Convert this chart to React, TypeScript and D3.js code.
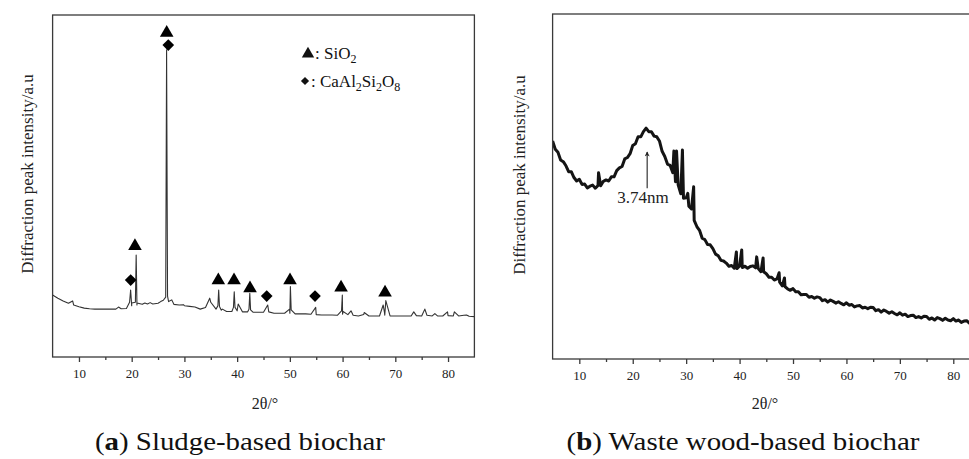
import React, { useRef, useEffect } from "react";
import * as d3 from "d3";

// (a) sludge-based biochar: slowly varying background read at 1° steps from 5°
const sludgeStart = 5;
const sludgeStep = 1;
const sludgeBackground = [
  181, 172, 164, 157, 152, 147, 143, 141, 140, 140, 140, 140, 140, 141, 142, 150,
  152, 154, 155, 155, 157, 166, 162, 154, 152, 150, 148, 146, 140, 145, 160, 140,
  137, 133, 133, 135, 132, 132, 131, 131, 131, 132, 128, 128, 128, 128, 126, 126,
  126, 125, 124, 123, 123, 123, 122, 125, 124, 122, 120, 124, 120, 120, 120, 122,
  120, 120, 120, 120, 120, 121, 120, 122, 120, 120, 120, 121, 120, 120, 122, 119,
  118,
];
// reflections and small bumps, [2θ, intensity]
const sludgePeaks = [
  [8.8, 164], [17.5, 146],
  [19.6, 160], [19.8, 196], [20.0, 158],
  [20.7, 160], [20.85, 298], [21.0, 158],
  [22.5, 158], [23.5, 159], [25.5, 162],
  [26.45, 175], [26.62, 898], [26.8, 178],
  [27.6, 167], [29.8, 153], [34.8, 172],
  [36.35, 150], [36.5, 196], [36.65, 148], [37.2, 140],
  [39.3, 145], [39.45, 191], [39.6, 145], [40.2, 155],
  [42.25, 140], [42.4, 186], [42.55, 138], [45.8, 152],
  [49.95, 140], [50.1, 206], [50.25, 138], [54.9, 145],
  [59.8, 135], [59.95, 181], [60.1, 133], [61.6, 135], [64.1, 130],
  [67.7, 152], [67.95, 130], [68.2, 165], [73.5, 132], [75.6, 140],
  [77.5, 127], [79.9, 132], [81.2, 132], [83.5, 123],
];
const sio2Marks = [
  [26.64, 951], [20.62, 327], [36.43, 227], [39.41, 227], [42.44, 204],
  [50.03, 227], [59.71, 206], [68.05, 191],
];
const anorthiteMarks = [[26.94, 912], [19.81, 225], [45.61, 178], [54.77, 178]];

// (b) waste wood-based biochar: scan read at 0.5° steps from 5°
const woodStart = 5;
const woodStep = 0.5;
const woodScan = [
  632, 608, 599, 577, 572, 560, 543, 543, 526, 516, 521, 506, 507, 496, 501, 504,
  495, 503, 502, 515, 519, 516, 528, 528, 546, 554, 558, 580, 584, 595, 619, 624,
  644, 644, 659, 669, 659, 659, 646, 644, 632, 602, 587, 565, 561, 540, 514, 505,
  479, 466, 467, 443, 435, 402, 384, 373, 350, 346, 332, 331, 320, 304, 299, 286,
  284, 278, 269, 271, 263, 262, 270, 265, 269, 263, 268, 270, 264, 262, 253, 253,
  247, 237, 237, 229, 232, 223, 212, 210, 203, 199, 204, 195, 195, 186, 187, 187,
  179, 181, 176, 180, 178, 169, 172, 165, 171, 167, 162, 166, 161, 157, 163, 156,
  158, 151, 154, 155, 148, 150, 146, 150, 149, 140, 143, 136, 142, 138, 133, 137,
  132, 128, 134, 127, 130, 123, 126, 127, 120, 123, 119, 124, 123, 115, 119, 113,
  120, 117, 112, 118, 113, 111, 117, 110, 113, 106, 110, 111, 104, 107, 104, 109,
  109,
];
const woodSpikes = [
  [13.6, 540], [27.7, 603], [28.2, 603], [29.3, 606], [30.3, 480], [31.4, 499],
  [39.4, 310], [40.4, 316], [43.2, 296], [44.4, 293], [47.4, 250], [48.4, 235],
];
const woodPeakLabel = "3.74nm";
const woodPeakAt = 22.7;
const woodArrow = [600, 495];
const woodLabelAt = [21.9, 452];

const xTicks = [10, 20, 30, 40, 50, 60, 70, 80];
const xMinorTicks = [15, 25, 35, 45, 55, 65, 75];
const yLabel = "Diffraction peak intensity/a.u";
const xLabel = "2θ/°";

const serif = "Liberation Serif, serif";

const drawPanel = (svg, o) => {
  const x = d3.scaleLinear().domain([5, 85]).range([o.left, o.right]);
  const y = d3.scaleLinear().domain([0, 1000]).range([o.bottom, o.top]);
  const g = svg.append("g");

  const clipId = `clip-${o.key}`;
  g.append("clipPath").attr("id", clipId)
    .append("rect")
    .attr("x", o.left).attr("y", o.top)
    .attr("width", o.right - o.left).attr("height", o.bottom - o.top);

  const line = d3.line().x(d => x(d[0])).y(d => y(d[1]));
  g.append("path")
    .datum(o.points)
    .attr("clip-path", `url(#${clipId})`)
    .attr("fill", "none")
    .attr("stroke", o.stroke)
    .attr("stroke-width", o.strokeWidth)
    .attr("stroke-linejoin", "round")
    .attr("d", line);

  g.append("rect")
    .attr("x", o.left).attr("y", o.top)
    .attr("width", o.right - o.left).attr("height", o.bottom - o.top)
    .attr("fill", "none").attr("stroke", "#3a3a3a").attr("stroke-width", 1.3);

  g.append("g")
    .attr("transform", `translate(0,${o.bottom})`)
    .call(d3.axisBottom(x).tickValues(xMinorTicks).tickSize(3).tickFormat(() => ""))
    .call(a => a.select(".domain").remove())
    .call(a => a.selectAll("line").attr("stroke", "#3a3a3a").attr("stroke-width", 1.3));

  g.append("g")
    .attr("transform", `translate(0,${o.bottom})`)
    .call(d3.axisBottom(x).tickValues(xTicks).tickSize(5).tickPadding(7))
    .call(a => a.select(".domain").remove())
    .call(a => a.selectAll("line").attr("stroke", "#3a3a3a").attr("stroke-width", 1.3))
    .call(a => a.selectAll("text")
      .attr("font-family", serif).attr("font-size", 13).attr("fill", "#222"));

  g.append("text")
    .attr("transform", `translate(${o.yLabelX},${o.yLabelY}) rotate(-90)`)
    .attr("text-anchor", "middle")
    .attr("font-family", serif).attr("font-size", 17).attr("fill", "#222")
    .text(yLabel);

  g.append("text")
    .attr("x", o.xLabelX).attr("y", 409)
    .attr("text-anchor", "middle")
    .attr("font-family", serif).attr("font-size", 16).attr("fill", "#222")
    .text(xLabel);

  const cap = g.append("text")
    .attr("x", o.captionX).attr("y", 450)
    .attr("text-anchor", "middle")
    .attr("textLength", o.captionWidth)
    .attr("lengthAdjust", "spacingAndGlyphs")
    .attr("font-family", serif).attr("font-size", 26).attr("fill", "#111");
  cap.append("tspan").text("(");
  cap.append("tspan").attr("font-weight", "bold").text(o.letter);
  cap.append("tspan").text(") " + o.caption);

  return { x, y, g };
};

const App = () => {
  const ref = useRef(null);

  useEffect(() => {
    const svg = d3.create("svg")
      .attr("width", 969)
      .attr("height", 459)
      .attr("viewBox", [0, 0, 969, 459])
      .attr("style", "position:absolute;left:0;top:0;background:#fff");

    // panel (a)
    const sludgePoints = sludgeBackground
      .map((v, i) => [sludgeStart + i * sludgeStep, v])
      .concat(sludgePeaks)
      .sort((a, b) => a[0] - b[0]);
    const a = drawPanel(svg, {
      key: "a", left: 52.6, right: 474.4, top: 15, bottom: 357,
      points: sludgePoints, stroke: "#333", strokeWidth: 1.1,
      yLabelX: 33, yLabelY: 174, xLabelX: 265,
      captionX: 240, captionWidth: 290, letter: "a", caption: "Sludge-based biochar",
    });
    const tri = d3.symbol(d3.symbolTriangle, 80);
    const dia = d3.symbol(d3.symbolSquare, 68);
    a.g.selectAll(".sio2").data(sio2Marks).join("path")
      .attr("d", tri)
      .attr("transform", d => `translate(${a.x(d[0])},${a.y(d[1]) + 1})`)
      .attr("fill", "#000");
    a.g.selectAll(".an").data(anorthiteMarks).join("path")
      .attr("d", dia)
      .attr("transform", d => `translate(${a.x(d[0])},${a.y(d[1])}) rotate(45)`)
      .attr("fill", "#000");

    // legend
    const lg = a.g.append("g").attr("font-family", serif).attr("font-size", 17).attr("fill", "#111");
    lg.append("path").attr("d", d3.symbol(d3.symbolTriangle, 66)).attr("transform", "translate(308,54)");
    const t1 = lg.append("text").attr("x", 315).attr("y", 59);
    t1.append("tspan").text(": SiO");
    t1.append("tspan").attr("font-size", 12).attr("dy", 4).text("2");
    lg.append("path").attr("d", d3.symbol(d3.symbolSquare, 34)).attr("transform", "translate(305,81) rotate(45)");
    const t2 = lg.append("text").attr("x", 311).attr("y", 87);
    t2.append("tspan").text(": CaAl");
    t2.append("tspan").attr("font-size", 12).attr("dy", 4).text("2");
    t2.append("tspan").attr("dy", -4).text("Si");
    t2.append("tspan").attr("font-size", 12).attr("dy", 4).text("2");
    t2.append("tspan").attr("dy", -4).text("O");
    t2.append("tspan").attr("font-size", 12).attr("dy", 4).text("8");

    // panel (b)
    const woodPoints = woodScan
      .map((v, i) => [woodStart + i * woodStep, v])
      .concat(woodSpikes)
      .sort((p, q) => p[0] - q[0]);
    const b = drawPanel(svg, {
      key: "b", left: 552.6, right: 980, top: 14, bottom: 359,
      points: woodPoints, stroke: "#141414", strokeWidth: 3,
      yLabelX: 525, yLabelY: 175, xLabelX: 765,
      captionX: 743, captionWidth: 353, letter: "b", caption: "Waste wood-based biochar",
    });
    svg.append("defs").append("marker")
      .attr("id", "arrowhead").attr("viewBox", "0 0 10 10")
      .attr("refX", 9).attr("refY", 5).attr("markerWidth", 7).attr("markerHeight", 5)
      .attr("markerUnits", "userSpaceOnUse")
      .attr("orient", "auto")
      .append("path").attr("d", "M0,0 L10,5 L0,10 L3,5 Z").attr("fill", "#222");
    b.g.append("line")
      .attr("x1", b.x(woodPeakAt)).attr("x2", b.x(woodPeakAt))
      .attr("y1", b.y(woodArrow[1])).attr("y2", b.y(woodArrow[0]))
      .attr("stroke", "#222").attr("stroke-width", 1.1)
      .attr("marker-end", "url(#arrowhead)");
    b.g.append("text")
      .attr("x", b.x(woodLabelAt[0])).attr("y", b.y(woodLabelAt[1]))
      .attr("text-anchor", "middle")
      .attr("font-family", serif).attr("font-size", 17).attr("fill", "#222")
      .text(woodPeakLabel);

    ref.current.innerHTML = "";
    ref.current.appendChild(svg.node());
  }, []);

  return <div ref={ref} />;
};

export default App;
